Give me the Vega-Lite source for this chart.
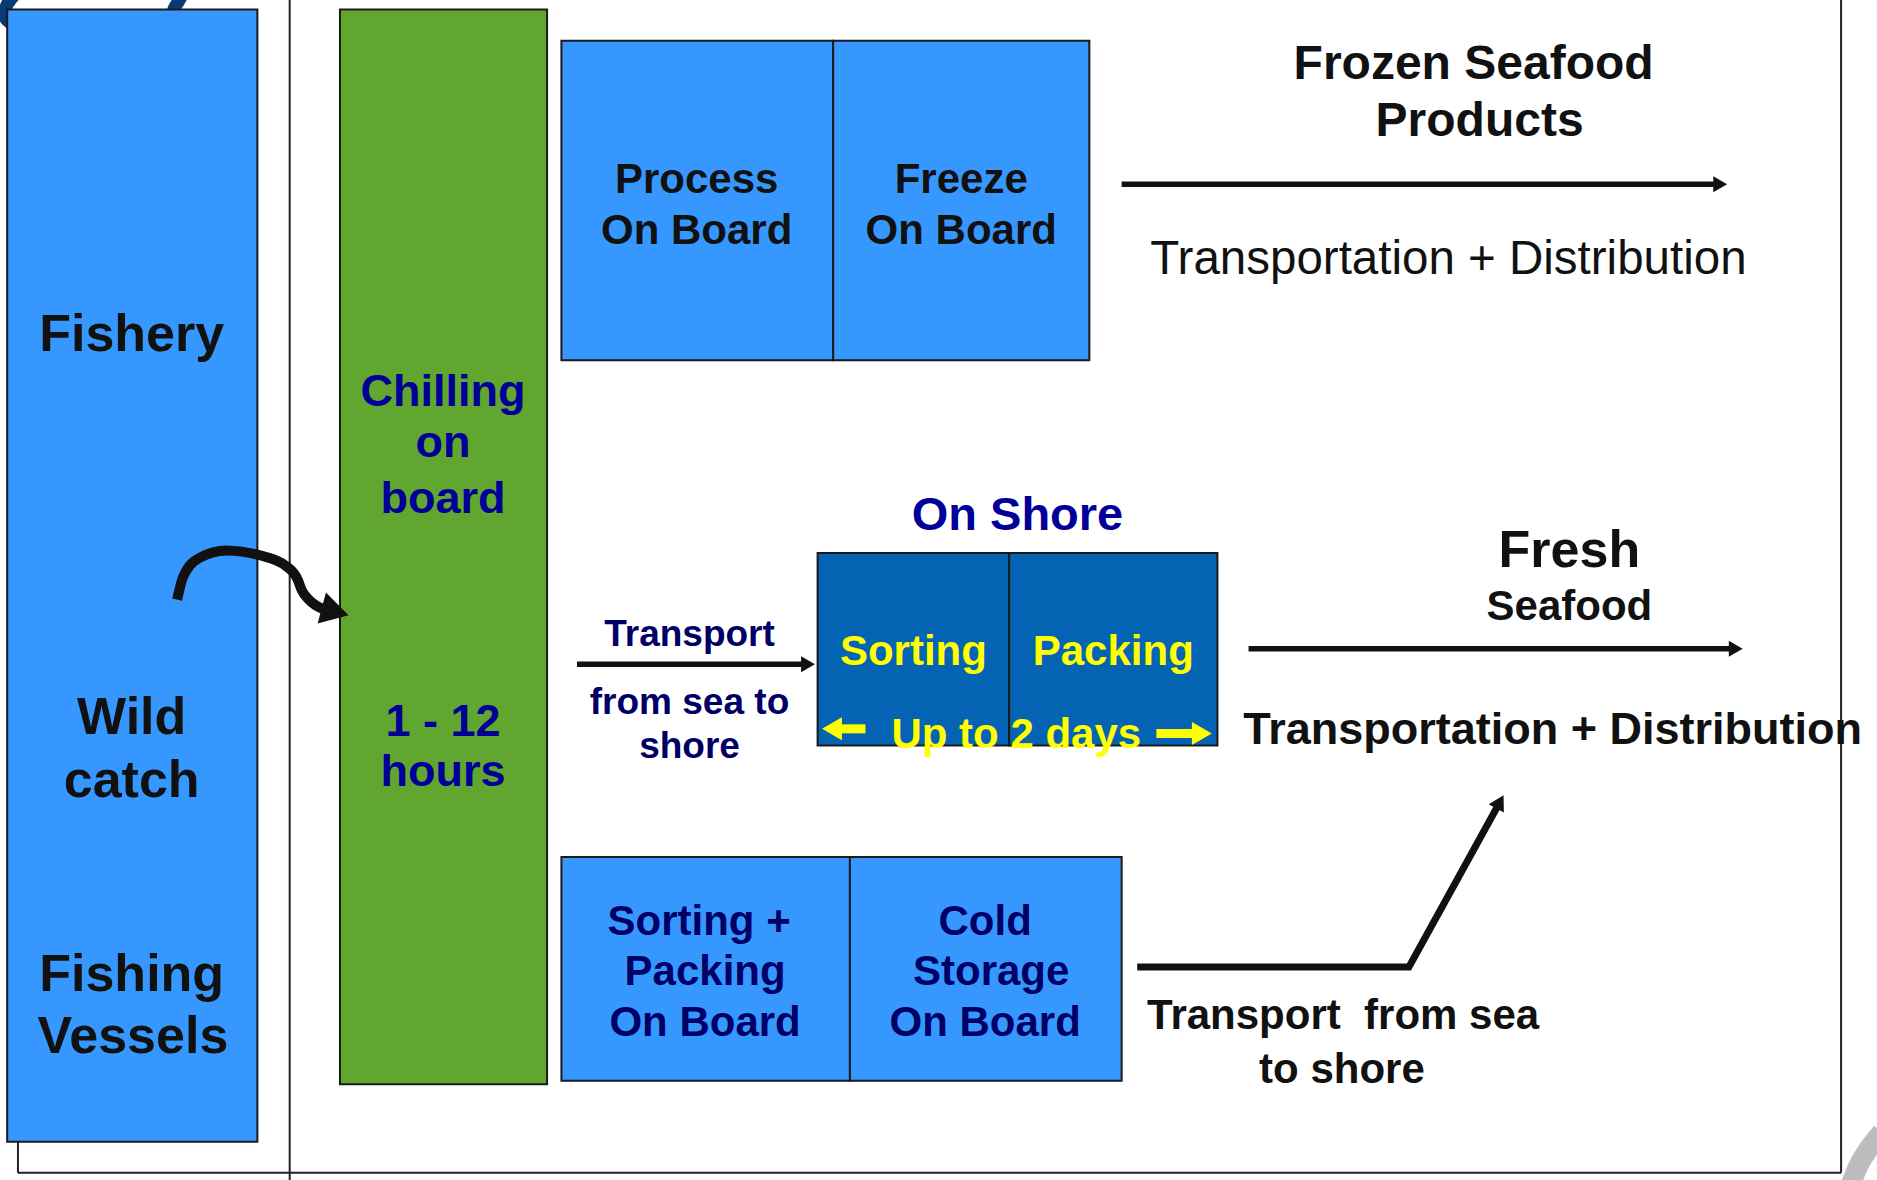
{
"$schema": "https://vega.github.io/schema/vega-lite/v6.json",
"width": 1877, "height": 1180, "autosize": "none", "padding": 0,
"background": "white",
"config": {"view": {"stroke": null}, "text": {"font": "Liberation Sans"}},
"datasets": {
"frame": [{"x":242,"y":0,"x2":242,"y2":986},{"x":15,"y":954,"x2":15,"y2":980},{"x":15,"y":980,"x2":1538,"y2":980},{"x":1538,"y":0,"x2":1538,"y2":980}],
"ring": [{"x":12,"y":-4,"o":1},{"x":5,"y":7,"o":2},{"x":12,"y":20,"o":3},{"x":75,"y":27,"o":4},{"x":136,"y":19,"o":5},{"x":146,"y":6,"o":6},{"x":152,"y":-4,"o":7}],
"grey": [{"x":1546,"y":990,"o":1},{"x":1553,"y":973,"o":2},{"x":1561,"y":960,"o":3},{"x":1572,"y":946,"o":4}],
"boxes": [
{"n":"Fishery","x":6,"x2":215,"y":8,"y2":954,"k":"light"},
{"n":"Chilling","x":284,"x2":457,"y":8,"y2":906,"k":"green"},
{"n":"Process","x":469,"x2":696,"y":34,"y2":301,"k":"light"},
{"n":"Freeze","x":696,"x2":910,"y":34,"y2":301,"k":"light"},
{"n":"Sorting","x":683,"x2":843,"y":462,"y2":623,"k":"dark"},
{"n":"Packing","x":843,"x2":1017,"y":462,"y2":623,"k":"dark"},
{"n":"SortPack","x":469,"x2":710,"y":716,"y2":903,"k":"light"},
{"n":"Cold","x":710,"x2":937,"y":716,"y2":903,"k":"light"}],
"arrows": [{"x":937,"y":154,"x2":1438,"y2":154},{"x":1043,"y":542,"x2":1451,"y2":542},{"x":482,"y":555,"x2":676,"y2":555}],
"bend": [{"x":950,"y":808,"o":1},{"x":1177,"y":808,"o":2},{"x":1252,"y":672,"o":3}],
"curve": [{"x":148,"y":501,"o":1},{"x":153,"y":482,"o":2},{"x":167,"y":466,"o":3},{"x":189,"y":460,"o":4},{"x":217,"y":464,"o":5},{"x":239,"y":473,"o":6},{"x":249,"y":485,"o":7},{"x":252,"y":493,"o":8},{"x":258,"y":501,"o":9},{"x":270,"y":509,"o":10}],
"headsRight": [{"x":1437,"y":154},{"x":1450,"y":542},{"x":675,"y":555}],
"headDiag": [{"x":1253,"y":670}],
"headCurve": [{"x":280,"y":511}],
"yshaft": [{"x":700,"y":609,"x2":723,"y2":609},{"x":966,"y":613,"x2":1000,"y2":613}],
"yheadL": [{"x":695,"y":609}],
"yheadR": [{"x":1004,"y":613}],
"texts": [
{"t":"Fishery","x":110,"y":293,"s":"big"},
{"t":"Wild","x":110,"y":613,"s":"big"},
{"t":"catch","x":110,"y":666,"s":"big"},
{"t":"Fishing","x":110,"y":828,"s":"big"},
{"t":"Vessels","x":111,"y":880,"s":"big"},
{"t":"Fresh","x":1311,"y":474,"s":"big"},
{"t":"Chilling","x":370,"y":339,"s":"chill"},
{"t":"on","x":370,"y":382,"s":"chill"},
{"t":"board","x":370,"y":429,"s":"chill"},
{"t":"1 - 12","x":370,"y":615,"s":"chill"},
{"t":"hours","x":370,"y":657,"s":"chill"},
{"t":"Process","x":582,"y":161,"s":"proc"},
{"t":"On Board","x":582,"y":204,"s":"proc"},
{"t":"Freeze","x":803,"y":161,"s":"proc"},
{"t":"On Board","x":803,"y":204,"s":"proc"},
{"t":"Seafood","x":1311,"y":518,"s":"proc"},
{"t":"Transport\u00a0 from sea","x":1122,"y":860,"s":"proc"},
{"t":"to shore","x":1121,"y":905,"s":"proc"},
{"t":"Frozen Seafood","x":1231,"y":66,"s":"head"},
{"t":"Products","x":1236,"y":114,"s":"head"},
{"t":"Transportation + Distribution","x":1210,"y":229,"s":"td"},
{"t":"On Shore","x":850,"y":443,"s":"shore"},
{"t":"Sorting","x":763,"y":556,"s":"yellow"},
{"t":"Packing","x":930,"y":556,"s":"yellow"},
{"t":"Up to 2 days","x":849,"y":625,"s":"yellow"},
{"t":"Transportation + Distribution","x":1297,"y":622,"s":"tdb"},
{"t":"Transport","x":576,"y":540,"s":"navys"},
{"t":"from sea to","x":576,"y":597,"s":"navys"},
{"t":"shore","x":576,"y":633,"s":"navys"},
{"t":"Sorting +","x":584,"y":781,"s":"navy"},
{"t":"Packing","x":589,"y":823,"s":"navy"},
{"t":"On Board","x":589,"y":866,"s":"navy"},
{"t":"Cold","x":823,"y":781,"s":"navy"},
{"t":"Storage","x":828,"y":823,"s":"navy"},
{"t":"On Board","x":823,"y":866,"s":"navy"}]
},
"encoding": {
"x": {"field":"x","type":"quantitative","scale":{"domain":[0,1568],"nice":false,"zero":false},"axis":null},
"y": {"field":"y","type":"quantitative","scale":{"domain":[0,986],"nice":false,"zero":false,"reverse":true},"axis":null}
},
"layer": [
{"data":{"name":"frame"},"mark":{"type":"rule","color":"#222222","strokeWidth":2},"encoding":{"x2":{"field":"x2"},"y2":{"field":"y2"}}},
{"data":{"name":"ring"},"mark":{"type":"line","color":"#0a3a73","strokeWidth":13,"interpolate":"cardinal","clip":true},"encoding":{"order":{"field":"o"}}},
{"data":{"name":"grey"},"mark":{"type":"line","color":"#bdbdbd","strokeWidth":20,"interpolate":"cardinal","clip":true},"encoding":{"order":{"field":"o"}}},
{"data":{"name":"boxes"},"mark":{"type":"rect","stroke":"#1a1a1a","strokeWidth":2,"opacity":1},"encoding":{"x2":{"field":"x2"},"y2":{"field":"y2"},"color":{"field":"k","type":"nominal","scale":{"domain":["light","green","dark"],"range":["#3698fe","#61a62e","#0563b3"]},"legend":null}}},
{"data":{"name":"arrows"},"mark":{"type":"rule","color":"#111111","strokeWidth":5.5},"encoding":{"x2":{"field":"x2"},"y2":{"field":"y2"}}},
{"data":{"name":"bend"},"mark":{"type":"line","color":"#111111","strokeWidth":7,"strokeJoin":"miter"},"encoding":{"order":{"field":"o"}}},
{"data":{"name":"curve"},"mark":{"type":"line","color":"#111111","strokeWidth":10,"interpolate":"monotone"},"encoding":{"order":{"field":"o"}}},
{"data":{"name":"headsRight"},"mark":{"type":"point","shape":"triangle-right","size":256,"filled":true,"opacity":1,"color":"#111111","strokeWidth":0}},
{"data":{"name":"headDiag"},"mark":{"type":"point","shape":"triangle-right","size":300,"angle":-61,"filled":true,"opacity":1,"color":"#111111","strokeWidth":0}},
{"data":{"name":"headCurve"},"mark":{"type":"point","shape":"triangle-right","size":1024,"angle":15,"filled":true,"opacity":1,"color":"#111111","strokeWidth":0}},
{"data":{"name":"yshaft"},"mark":{"type":"rule","color":"#ffff00","strokeWidth":9},"encoding":{"x2":{"field":"x2"},"y2":{"field":"y2"}}},
{"data":{"name":"yheadL"},"mark":{"type":"point","shape":"triangle-left","size":529,"filled":true,"opacity":1,"color":"#ffff00","strokeWidth":0}},
{"data":{"name":"yheadR"},"mark":{"type":"point","shape":"triangle-right","size":529,"filled":true,"opacity":1,"color":"#ffff00","strokeWidth":0}},
{"data":{"name":"texts"},"transform":[{"filter":"datum.s == 'big'"}],"mark":{"type":"text","fontSize":52,"fontWeight":"bold","color":"#111111","align":"center","baseline":"alphabetic"},"encoding":{"text":{"field":"t"}}},
{"data":{"name":"texts"},"transform":[{"filter":"datum.s == 'chill'"}],"mark":{"type":"text","fontSize":45,"fontWeight":"bold","color":"#000099","align":"center","baseline":"alphabetic"},"encoding":{"text":{"field":"t"}}},
{"data":{"name":"texts"},"transform":[{"filter":"datum.s == 'proc'"}],"mark":{"type":"text","fontSize":42,"fontWeight":"bold","color":"#111111","align":"center","baseline":"alphabetic"},"encoding":{"text":{"field":"t"}}},
{"data":{"name":"texts"},"transform":[{"filter":"datum.s == 'head'"}],"mark":{"type":"text","fontSize":48,"fontWeight":"bold","color":"#111111","align":"center","baseline":"alphabetic"},"encoding":{"text":{"field":"t"}}},
{"data":{"name":"texts"},"transform":[{"filter":"datum.s == 'td'"}],"mark":{"type":"text","fontSize":47.5,"fontWeight":"normal","color":"#111111","align":"center","baseline":"alphabetic"},"encoding":{"text":{"field":"t"}}},
{"data":{"name":"texts"},"transform":[{"filter":"datum.s == 'shore'"}],"mark":{"type":"text","fontSize":47,"fontWeight":"bold","color":"#000099","align":"center","baseline":"alphabetic"},"encoding":{"text":{"field":"t"}}},
{"data":{"name":"texts"},"transform":[{"filter":"datum.s == 'yellow'"}],"mark":{"type":"text","fontSize":42,"fontWeight":"bold","color":"#ffff00","align":"center","baseline":"alphabetic"},"encoding":{"text":{"field":"t"}}},
{"data":{"name":"texts"},"transform":[{"filter":"datum.s == 'tdb'"}],"mark":{"type":"text","fontSize":45,"fontWeight":"bold","color":"#111111","align":"center","baseline":"alphabetic"},"encoding":{"text":{"field":"t"}}},
{"data":{"name":"texts"},"transform":[{"filter":"datum.s == 'navys'"}],"mark":{"type":"text","fontSize":37,"fontWeight":"bold","color":"#000066","align":"center","baseline":"alphabetic"},"encoding":{"text":{"field":"t"}}},
{"data":{"name":"texts"},"transform":[{"filter":"datum.s == 'navy'"}],"mark":{"type":"text","fontSize":42,"fontWeight":"bold","color":"#000066","align":"center","baseline":"alphabetic"},"encoding":{"text":{"field":"t"}}}
]
}
